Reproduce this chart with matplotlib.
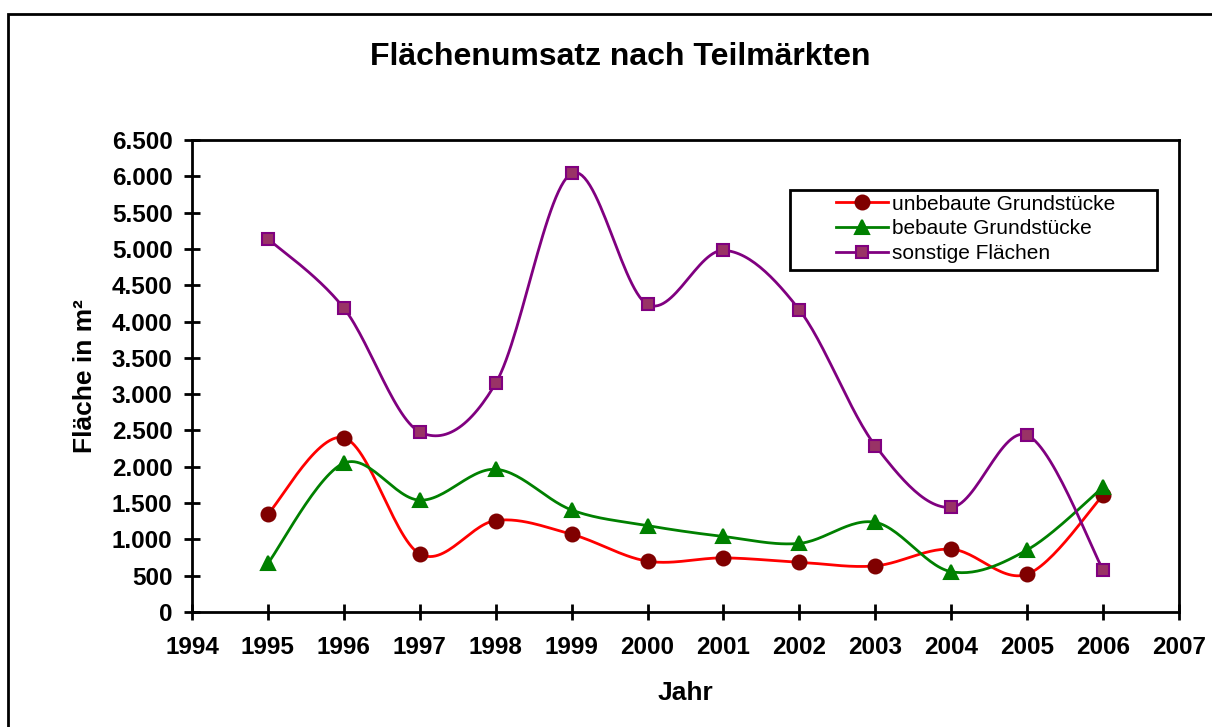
import numpy as np
import matplotlib
matplotlib.use('Agg')
import matplotlib.pyplot as plt
from matplotlib.patches import Rectangle
from matplotlib.ticker import FuncFormatter

plt.rcParams['font.family'] = ['Liberation Sans', 'DejaVu Sans']

jahre = [1995, 1996, 1997, 1998, 1999, 2000, 2001, 2002, 2003, 2004, 2005, 2006]
unbebaut = [1350, 2400, 800, 1260, 1070, 700, 745, 685, 635, 865, 520, 1610]
bebaut = [670, 2050, 1540, 1965, 1405, 1190, 1040, 945, 1235, 555, 855, 1720]
sonstige = [5140, 4185, 2480, 3150, 6040, 4235, 4980, 4160, 2290, 1440, 2435, 580]
labels = ['unbebaute Grundstücke', 'bebaute Grundstücke', 'sonstige Flächen']


def smooth(x, y, n=30):
    # Catmull-Rom like the smoothed lines in Excel
    x = np.asarray(x, float)
    y = np.asarray(y, float)
    px = np.concatenate([[x[0]], x, [x[-1]]])
    py = np.concatenate([[y[0]], y, [y[-1]]])
    xs, ys = [], []
    t = np.linspace(0, 1, n)
    for i in range(1, len(px) - 2):
        p0x, p1x, p2x, p3x = px[i - 1], px[i], px[i + 1], px[i + 2]
        p0y, p1y, p2y, p3y = py[i - 1], py[i], py[i + 1], py[i + 2]
        c1x = p1x + (p2x - p0x) / 6
        c1y = p1y + (p2y - p0y) / 6
        c2x = p2x - (p3x - p1x) / 6
        c2y = p2y - (p3y - p1y) / 6
        bx = (1-t)**3*p1x + 3*(1-t)**2*t*c1x + 3*(1-t)*t**2*c2x + t**3*p2x
        by = (1-t)**3*p1y + 3*(1-t)**2*t*c1y + 3*(1-t)*t**2*c2y + t**3*p2y
        xs.append(bx)
        ys.append(by)
    return np.concatenate(xs), np.concatenate(ys)


fig = plt.figure(figsize=(12.12, 7.27), dpi=100)
ax = fig.add_axes([192/1212, 1-612/727, (1179-192)/1212, (612-140)/727])

styles = [
    (unbebaut, '#ff0000', 'o', '#800000', '#800000', 10),
    (bebaut, '#008000', '^', '#008000', '#008000', 10),
    (sonstige, '#800080', 's', '#993366', '#800080', 9),
]
handles = []
for (vals, lc, m, fc, ec, ms), lab in zip(styles, labels):
    sx, sy = smooth(jahre, vals)
    ax.plot(sx, sy, color=lc, lw=2, zorder=2)
    ax.plot(jahre, vals, ls='none', marker=m, ms=ms, mfc=fc, mec=ec, mew=1.5, zorder=3)
    h, = ax.plot([], [], color=lc, lw=2, marker=m, ms=ms, mfc=fc, mec=ec, mew=1.5)
    handles.append(h)

ax.set_xlim(1994, 2007)
ax.set_ylim(0, 6500)
ax.set_xticks(range(1994, 2008))
ax.set_yticks(range(0, 6501, 500))
ax.yaxis.set_major_formatter(FuncFormatter(lambda v, p: f'{int(v):,}'.replace(',', '.')))
for s in ax.spines.values():
    s.set_linewidth(2)
ax.tick_params(direction='inout', length=12, width=2, labelsize=17.5, pad=8)
for t in ax.get_xticklabels() + ax.get_yticklabels():
    t.set_fontweight('bold')
ax.tick_params(axis='x', pad=11)

ax.set_xlabel('Jahr', fontsize=19, fontweight='bold', labelpad=16)
ax.set_ylabel('Fläche in m²', fontsize=19, fontweight='bold', labelpad=11)
fig.text(620/1212, 1-57/727, 'Flächenumsatz nach Teilmärkten', fontsize=23,
         fontweight='bold', ha='center', va='center')

leg = ax.legend(handles, labels, loc='upper left', bbox_to_anchor=(821/1212, 1-180/727),
                bbox_transform=fig.transFigure, frameon=False, fontsize=15,
                handlelength=2.5, handletextpad=0.2, labelspacing=0.27, borderpad=0.2)
ax.add_patch(Rectangle((790/1212, 1-270/727), (1157-790)/1212, 80/727,
                       transform=fig.transFigure, fill=False, lw=2, ec='black', zorder=5))

fig.patches.append(Rectangle((8/1212, -0.1), 1.2, 1.1 - 14/727, transform=fig.transFigure,
                             fill=False, lw=2, ec='black'))

fig.savefig('out.png', dpi=100)
